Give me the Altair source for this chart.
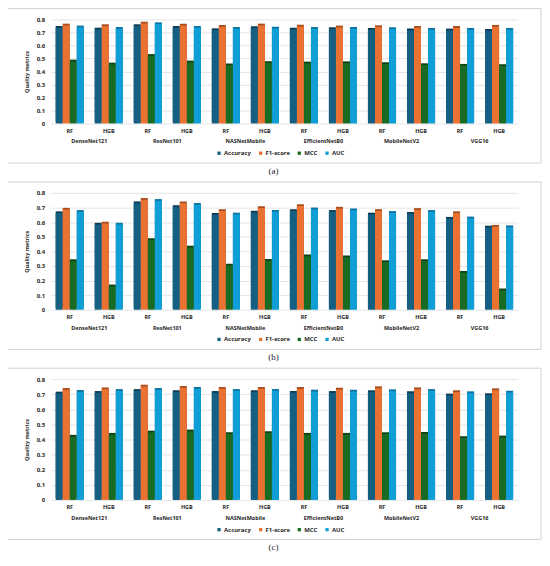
import altair as alt
import pandas as pd

models = ["DenseNet121", "ResNet101", "NASNetMobile", "EfficientNetB0", "MobileNetV2", "VGG16"]
classifiers = ["RF", "HGB"]
metrics = ["Accuracy", "F1-score", "MCC", "AUC"]
y_ticks = [0, 0.1, 0.2, 0.3, 0.4, 0.5, 0.6, 0.7, 0.8]

# panel (a)
acc_a = [0.736, 0.723, 0.749, 0.736, 0.718, 0.734, 0.723, 0.726, 0.721, 0.716, 0.716, 0.713]
f1_a = [0.754, 0.749, 0.769, 0.754, 0.744, 0.754, 0.746, 0.739, 0.741, 0.736, 0.736, 0.744]
mcc_a = [0.477, 0.454, 0.520, 0.470, 0.447, 0.465, 0.462, 0.464, 0.457, 0.449, 0.444, 0.442]
auc_a = [0.739, 0.728, 0.764, 0.736, 0.728, 0.730, 0.728, 0.728, 0.726, 0.721, 0.721, 0.721]

# panel (b)
acc_b = [0.661, 0.583, 0.729, 0.703, 0.650, 0.665, 0.676, 0.670, 0.652, 0.656, 0.623, 0.563]
f1_b = [0.685, 0.590, 0.752, 0.729, 0.676, 0.696, 0.710, 0.692, 0.676, 0.683, 0.661, 0.568]
mcc_b = [0.333, 0.160, 0.477, 0.426, 0.302, 0.335, 0.366, 0.359, 0.326, 0.333, 0.253, 0.133]
auc_b = [0.670, 0.583, 0.745, 0.718, 0.652, 0.670, 0.687, 0.681, 0.663, 0.670, 0.625, 0.565]

# panel (c)
acc_c = [0.705, 0.709, 0.722, 0.714, 0.709, 0.714, 0.709, 0.709, 0.714, 0.707, 0.692, 0.694]
f1_c = [0.729, 0.733, 0.751, 0.742, 0.736, 0.736, 0.736, 0.731, 0.740, 0.733, 0.714, 0.727]
mcc_c = [0.419, 0.432, 0.447, 0.454, 0.436, 0.443, 0.432, 0.432, 0.436, 0.438, 0.410, 0.414]
auc_c = [0.716, 0.722, 0.729, 0.736, 0.722, 0.722, 0.718, 0.718, 0.720, 0.722, 0.707, 0.711]

colors = ["#156082", "#E97132", "#196B24", "#0F9ED5"]
side_colors = ["#0b3e56", "#a84d1e", "#0e4315", "#0a73a0"]

FONT = "Open Sans"
TXT = "#262626"
W = 472
PI = 0.28
PO = 0.13
groups = [f"{m}|{c}" for m in models for c in classifiers]
STEP = W / (len(groups) - PI + 2 * PO)


def panel(series, h, caption):
    rows = []
    for metric, vals in zip(metrics, series):
        for g, v in zip(groups, vals):
            rows.append({"group": g, "metric": metric, "value": v})
    df = pd.DataFrame(rows)

    xaxis = alt.Axis(
        title=None, labelAngle=0, domain=False, ticks=False,
        labelExpr="split(datum.label, '|')[1]", labelFontSize=5.5,
        labelFontWeight="bold", labelFont=FONT, labelColor=TXT, labelPadding=5,
    )
    xscale = alt.Scale(paddingInner=PI, paddingOuter=PO)
    x = alt.X("group:N", sort=groups, scale=xscale, axis=xaxis)
    xo = alt.XOffset("metric:N", sort=metrics, scale=alt.Scale(paddingInner=0, paddingOuter=0))
    y = alt.Y(
        "value:Q", scale=alt.Scale(domain=[0, 0.8]),
        axis=alt.Axis(
            values=y_ticks, format="~g", title="Quality metrics",
            labelFontSize=6, labelFontWeight="bold", labelFont=FONT, labelColor=TXT,
            titleFontSize=5.5, titleFontWeight="bold", titleFont=FONT, titleColor=TXT,
            domain=False, ticks=False, gridColor="#d9d9d9", gridWidth=0.7,
            labelPadding=6, titlePadding=7,
        ),
    )

    frame = alt.Chart(alt.Data(values=[{"k": 1}])).mark_rect(
        fillOpacity=0, stroke="#d0d0d0", strokeWidth=1
    ).encode(
        x=alt.value(-45), x2=alt.value(W + 23), y=alt.value(-11), y2=alt.value(h + 40)
    )

    side = alt.Chart(df).mark_bar(xOffset=1.8, yOffset=-1.8).encode(
        x=x, xOffset=xo, y=y,
        color=alt.Color("metric:N", sort=metrics,
                        scale=alt.Scale(domain=metrics, range=side_colors), legend=None),
    )
    front = alt.Chart(df).mark_bar().encode(
        x=x, xOffset=xo, y=y,
        color=alt.Color(
            "metric:N", sort=metrics, scale=alt.Scale(domain=metrics, range=colors),
            legend=alt.Legend(
                orient="none", legendX=167, legendY=h + 27, direction="horizontal",
                title=None, symbolType="square", symbolSize=11, symbolStrokeWidth=0,
                labelFontSize=6, labelFont=FONT, labelFontWeight="bold", labelColor=TXT,
                columnPadding=6, labelOffset=2,
            ),
        ),
    )

    mdf = pd.DataFrame({"group": [f"{m}|RF" for m in models], "model": models})
    names = alt.Chart(mdf).mark_text(
        fontSize=5.5, fontWeight="bold", font=FONT, color=TXT, baseline="middle",
        dx=STEP * PI / 2,
    ).encode(
        x=alt.X("group:N", sort=groups, scale=xscale, axis=xaxis, bandPosition=1),
        y=alt.value(h + 18),
        text="model:N",
    )

    cap = alt.Chart(alt.Data(values=[{"k": 1}])).mark_text(
        font="Liberation Serif", fontSize=9, color="#222", baseline="middle"
    ).encode(x=alt.value(225), y=alt.value(h + 48), text=alt.value(caption))

    return alt.layer(frame, side, front, names, cap).resolve_scale(
        color="independent"
    ).properties(width=W, height=h)


pa = panel([acc_a, f1_a, mcc_a, auc_a], 105, "(a)")
pb = panel([acc_b, f1_b, mcc_b, auc_b], 118, "(b)")
pc = panel([acc_c, f1_c, mcc_c, auc_c], 122, "(c)")

chart = alt.vconcat(pa, pb, pc, spacing=70, bounds="flush").resolve_scale(
    color="independent"
).resolve_legend(color="independent").configure_view(stroke=None).properties(
    padding={"left": -3, "top": -3, "right": 0, "bottom": 0}
)

chart.save("out.html", embed_options={"renderer": "svg", "actions": False})
